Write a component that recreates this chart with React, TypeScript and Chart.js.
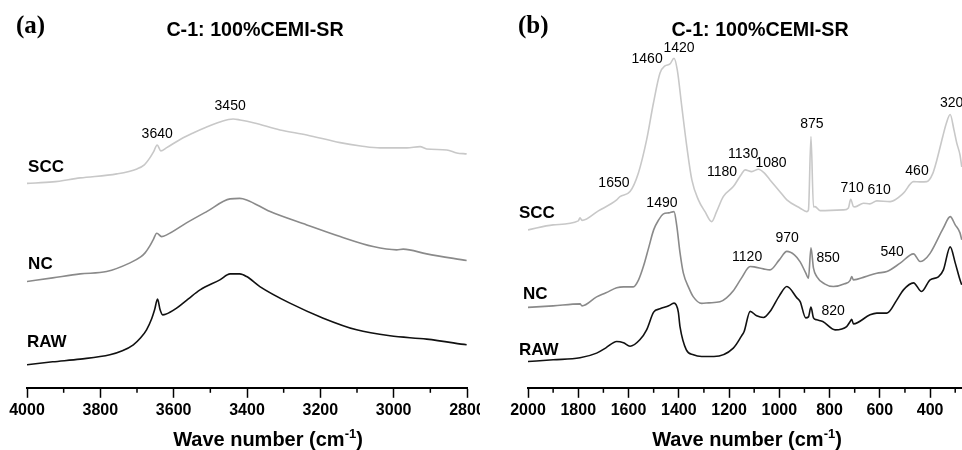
import React, { useEffect, useRef } from 'react';
import { Chart, registerables } from 'chart.js';

Chart.register(...registerables);

// ---------- Panel (a): 4000–2800 cm-1 ----------
const ticksA = [4000, 3800, 3600, 3400, 3200, 3000, 2800];
const minorTicksA = [3900, 3700, 3500, 3300, 3100, 2900];

const sccA_x = [4000, 3930, 3855, 3755, 3700, 3680, 3665, 3655, 3645, 3635, 3620, 3580, 3547, 3510, 3474, 3438, 3419, 3380, 3310, 3237, 3146, 3090, 3037, 2964, 2928, 2910, 2855, 2828, 2801];
const sccA_y = [204.5, 206, 210, 214, 219, 223, 230, 236, 243, 237, 240, 249, 255, 261, 266, 269, 268, 265, 258, 253, 245.3, 242, 240, 240, 241.3, 239, 238, 235, 234];

const ncA_x = [4000, 3930, 3855, 3783, 3719, 3690, 3678, 3665, 3656, 3646, 3633, 3619, 3565, 3510, 3446, 3420, 3401, 3337, 3237, 3146, 3056, 2992, 2974, 2910, 2801];
const ncA_y = [106.3, 110, 114, 116.3, 125, 131, 135, 142, 148, 154.7, 151.3, 153, 165, 176.3, 189, 189.5, 188, 176.3, 163, 151.3, 141.3, 138, 138.7, 134, 127.3];

const rawA_x = [4000, 3930, 3855, 3774, 3740, 3710, 3690, 3674, 3660, 3652, 3644, 3637, 3630, 3622, 3592, 3560, 3528, 3474, 3446, 3420, 3401, 3365, 3283, 3192, 3101, 3010, 2910, 2801];
const rawA_y = [23, 26, 28.7, 33, 37, 43, 50, 58, 69, 78, 88.7, 78, 73, 73.5, 79.7, 89, 98, 108, 114, 114, 111.3, 101.3, 84.7, 69.7, 58, 52, 48.7, 43];

const peakLabelsA = [
  { text: '3640', x: 3645, y: 254 },
  { text: '3450', x: 3446, y: 282 },
];
const seriesLabelsA = [
  { text: 'SCC', x: 3997, y: 221 },
  { text: 'NC', x: 3997, y: 124 },
  { text: 'RAW', x: 4000, y: 46 },
];

// ---------- Panel (b): 2000–~270 cm-1 ----------
const ticksB = [2000, 1800, 1600, 1400, 1200, 1000, 800, 600, 400];
const minorTicksB = [1900, 1700, 1500, 1300, 1100, 900, 700, 500, 300];

const sccB_x = [2000, 1900, 1800, 1793, 1785, 1720, 1647, 1634, 1594, 1561, 1528, 1501, 1475, 1455, 1435, 1419, 1406, 1388, 1368, 1348, 1322, 1295, 1269, 1250, 1223, 1183, 1150, 1136, 1110, 1083, 1060, 1037, 1000, 970, 917, 891, 884, 874, 864, 858, 838, 745, 725, 716, 705, 699, 665, 640, 612, 559, 506, 466, 440, 413, 390, 373, 350, 335, 320, 305, 294, 281, 274];
const sccB_y = [158, 163, 167, 170, 167.5, 177, 188, 191.3, 196.3, 214.7, 248, 284.7, 314.7, 322, 324, 329.7, 318, 281.3, 241.3, 208, 188, 176, 166.3, 176, 191.3, 201.3, 214, 218, 216.3, 218.7, 215, 208, 197, 188, 179.7, 176.3, 178, 251.3, 181, 181.3, 177.3, 178, 180, 188.7, 181.3, 181, 184.7, 184, 187, 186.3, 194.7, 206.3, 206, 206.3, 214, 228, 251, 265, 273.5, 258, 245, 233, 221];

const ncB_x = [2000, 1900, 1793, 1785, 1727, 1690, 1647, 1620, 1581, 1560, 1540, 1520, 1500, 1480, 1461, 1440, 1419, 1408, 1395, 1382, 1360, 1342, 1309, 1280, 1236, 1210, 1183, 1150, 1116, 1100, 1063, 1037, 1000, 970, 940, 917, 895, 884, 874, 864, 851, 820, 785, 740, 718, 712, 705, 660, 612, 572, 519, 466, 440, 426, 400, 347, 320, 300, 281, 274];
const ncB_y = [80.5, 82, 84, 82, 91, 95, 100, 101, 101, 108, 122, 140, 158, 168, 174, 175, 176.3, 162, 135, 115, 100, 91, 84.5, 85, 86, 90, 97, 110, 121.3, 121, 119, 118, 128, 136.5, 133, 126, 115, 109.7, 140, 119.7, 111.3, 104, 101.3, 104, 107.5, 111.3, 108, 111, 114.7, 116.3, 124.7, 134, 126.3, 127.5, 134.5, 160, 171.3, 163, 155, 148];

const rawB_x = [2000, 1900, 1793, 1727, 1690, 1647, 1620, 1594, 1555, 1528, 1500, 1475, 1440, 1419, 1402, 1395, 1370, 1342, 1309, 1260, 1183, 1150, 1140, 1116, 1090, 1063, 1037, 1000, 970, 930, 917, 895, 884, 874, 864, 851, 827, 778, 732, 718, 712, 705, 639, 612, 572, 532, 506, 466, 434, 400, 367, 347, 320, 300, 281, 274];
const rawB_y = [26.3, 28, 30, 34.7, 40, 46.3, 45, 41.5, 48, 58, 75.7, 79, 82, 84.7, 76, 61, 38, 33, 31.3, 31.3, 39.7, 52, 56.3, 76.5, 72, 70.3, 76.3, 92, 101.3, 90, 86.3, 70, 71, 80.7, 70, 68, 66.3, 58, 61.3, 66.3, 68.5, 64, 73, 74.7, 74.7, 88, 98, 105, 96.3, 108, 111, 118, 141, 125, 108, 103];

const peakLabelsB = [
  { text: '1460', x: 1526, y: 329 },
  { text: '1420', x: 1399, y: 340 },
  { text: '1650', x: 1658, y: 205 },
  { text: '1180', x: 1228, y: 216 },
  { text: '1130', x: 1144, y: 234 },
  { text: '1080', x: 1033, y: 225 },
  { text: '875', x: 870, y: 264 },
  { text: '710', x: 710, y: 200 },
  { text: '610', x: 603, y: 198 },
  { text: '460', x: 452, y: 217 },
  { text: '320', x: 314, y: 285 },
  { text: '1490', x: 1467, y: 185 },
  { text: '1120', x: 1128, y: 131 },
  { text: '970', x: 969, y: 150 },
  { text: '850', x: 806, y: 130 },
  { text: '540', x: 551, y: 136 },
  { text: '820', x: 786, y: 77 },
];
const seriesLabelsB = [
  { text: 'SCC', x: 2036, y: 175 },
  { text: 'NC', x: 2020, y: 94 },
  { text: 'RAW', x: 2036, y: 38 },
];

const TITLE = 'C-1: 100%CEMI-SR';
const SANS = '"Liberation Sans", Arial, Helvetica, sans-serif';
const SERIF = '"Liberation Serif", "Times New Roman", serif';

const COLORS = { scc: '#c8c8c8', nc: '#8a8a8a', raw: '#111111' };

function pairs(xs: number[], ys: number[]) {
  return xs.map((x, i) => ({ x, y: ys[i] }));
}

type PanelCfg = {
  letter: string;
  letterX: number;
  titleX: number;
  axisTitleX: number;
  minor: number[];
  peaks: { text: string; x: number; y: number }[];
  series: { text: string; x: number; y: number }[];
};

function overlayPlugin(cfg: PanelCfg) {
  return {
    id: 'overlay',
    afterDraw(chart: any) {
      const ctx: CanvasRenderingContext2D = chart.ctx;
      const xs = chart.scales.x;
      const ys = chart.scales.y;
      const yb = chart.chartArea.bottom;
      ctx.save();
      // minor ticks
      ctx.strokeStyle = '#000';
      ctx.lineWidth = 1.5;
      cfg.minor.forEach((v) => {
        const px = xs.getPixelForValue(v);
        ctx.beginPath();
        ctx.moveTo(px, yb);
        ctx.lineTo(px, yb + 5);
        ctx.stroke();
      });
      ctx.fillStyle = '#000';
      // peak labels
      ctx.font = `14px ${SANS}`;
      ctx.textAlign = 'center';
      ctx.textBaseline = 'middle';
      cfg.peaks.forEach((p) => {
        ctx.fillText(p.text, xs.getPixelForValue(p.x), ys.getPixelForValue(p.y));
      });
      // series labels
      ctx.font = `bold 17px ${SANS}`;
      ctx.textAlign = 'left';
      cfg.series.forEach((p) => {
        ctx.fillText(p.text, xs.getPixelForValue(p.x), ys.getPixelForValue(p.y));
      });
      // panel letter
      ctx.textBaseline = 'alphabetic';
      ctx.font = `bold 25px ${SERIF}`;
      ctx.fillText(cfg.letter, cfg.letterX, 33);
      // title
      ctx.font = `bold 19.7px ${SANS}`;
      ctx.textAlign = 'center';
      ctx.fillText(TITLE, cfg.titleX, 36);
      // axis title with superscript
      const main = 'Wave number (cm';
      const sup = '-1';
      const close = ')';
      ctx.textAlign = 'left';
      ctx.font = `bold 20px ${SANS}`;
      const w1 = ctx.measureText(main).width;
      const w3 = ctx.measureText(close).width;
      ctx.font = `bold 13px ${SANS}`;
      const w2 = ctx.measureText(sup).width;
      const total = w1 + w2 + w3;
      const x0 = cfg.axisTitleX - total / 2;
      const base = 446;
      ctx.font = `bold 20px ${SANS}`;
      ctx.fillText(main, x0, base);
      ctx.font = `bold 13px ${SANS}`;
      ctx.fillText(sup, x0 + w1, base - 8);
      ctx.font = `bold 20px ${SANS}`;
      ctx.fillText(close, x0 + w1 + w2, base);
      ctx.restore();
    },
  };
}

function makeDatasets(scc: any[], nc: any[], raw: any[]) {
  const common = { borderWidth: 1.6, pointRadius: 0, fill: false, cubicInterpolationMode: 'monotone' as const };
  return [
    { label: 'SCC', data: scc, borderColor: COLORS.scc, ...common },
    { label: 'NC', data: nc, borderColor: COLORS.nc, ...common },
    { label: 'RAW', data: raw, borderColor: COLORS.raw, ...common },
  ];
}

function xScale(min: number, max: number, ticks: number[]) {
  return {
    type: 'linear' as const,
    min,
    max,
    reverse: true,
    afterBuildTicks: (s: any) => {
      s.ticks = ticks.map((v) => ({ value: v }));
    },
    ticks: {
      color: '#000',
      font: { family: SANS, size: 16, weight: 'bold' as const },
      padding: 3,
      maxRotation: 0,
      autoSkip: false,
      callback: (v: any) => String(v),
    },
    grid: { display: true, drawOnChartArea: false, drawTicks: true, tickLength: 10, tickWidth: 1.5, tickColor: '#000' },
    border: { display: true, color: '#000', width: 2 },
  };
}

function Panel(props: {
  width: number;
  padLeft: number;
  padRight: number;
  xmin: number;
  xmax: number;
  ticks: number[];
  datasets: any[];
  cfg: PanelCfg;
}) {
  const ref = useRef<HTMLCanvasElement | null>(null);
  useEffect(() => {
    if (!ref.current) return;
    const chart = new Chart(ref.current, {
      type: 'line',
      data: { datasets: props.datasets },
      options: {
        animation: false,
        responsive: false,
        devicePixelRatio: 1,
        layout: { padding: { left: props.padLeft, right: props.padRight, top: 0, bottom: 27 } },
        plugins: { legend: { display: false }, tooltip: { enabled: false }, title: { display: false } },
        scales: {
          x: xScale(props.xmin, props.xmax, props.ticks),
          y: { type: 'linear', display: false, min: 0, max: 388 },
        },
      } as any,
      plugins: [overlayPlugin(props.cfg)],
    });
    return () => chart.destroy();
  }, []);
  return <canvas ref={ref} width={props.width} height={450} style={{ display: 'block' }} />;
}

export default function App() {
  useEffect(() => {
    document.body.style.margin = '0';
  }, []);
  const dsA = makeDatasets(pairs(sccA_x, sccA_y), pairs(ncA_x, ncA_y), pairs(rawA_x, rawA_y));
  const dsB = makeDatasets(pairs(sccB_x, sccB_y), pairs(ncB_x, ncB_y), pairs(rawB_x, rawB_y));
  return (
    <div style={{ position: 'absolute', left: 0, top: 0, width: 962, height: 450, background: '#fff', overflow: 'hidden' }}>
      <div style={{ position: 'absolute', left: 0, top: 0, width: 480, height: 450, overflow: 'hidden' }}>
        <Panel
          width={500}
          padLeft={27}
          padRight={33}
          xmin={2800}
          xmax={4000}
          ticks={ticksA}
          datasets={dsA}
          cfg={{ letter: '(a)', letterX: 16, titleX: 255, axisTitleX: 268, minor: minorTicksA, peaks: peakLabelsA, series: seriesLabelsA }}
        />
      </div>
      <div style={{ position: 'absolute', left: 480, top: 0, width: 482, height: 450, overflow: 'hidden' }}>
        <Panel
          width={482}
          padLeft={48}
          padRight={0}
          xmin={273}
          xmax={2000}
          ticks={ticksB}
          datasets={dsB}
          cfg={{ letter: '(b)', letterX: 38, titleX: 280, axisTitleX: 267, minor: minorTicksB, peaks: peakLabelsB, series: seriesLabelsB }}
        />
      </div>
    </div>
  );
}
